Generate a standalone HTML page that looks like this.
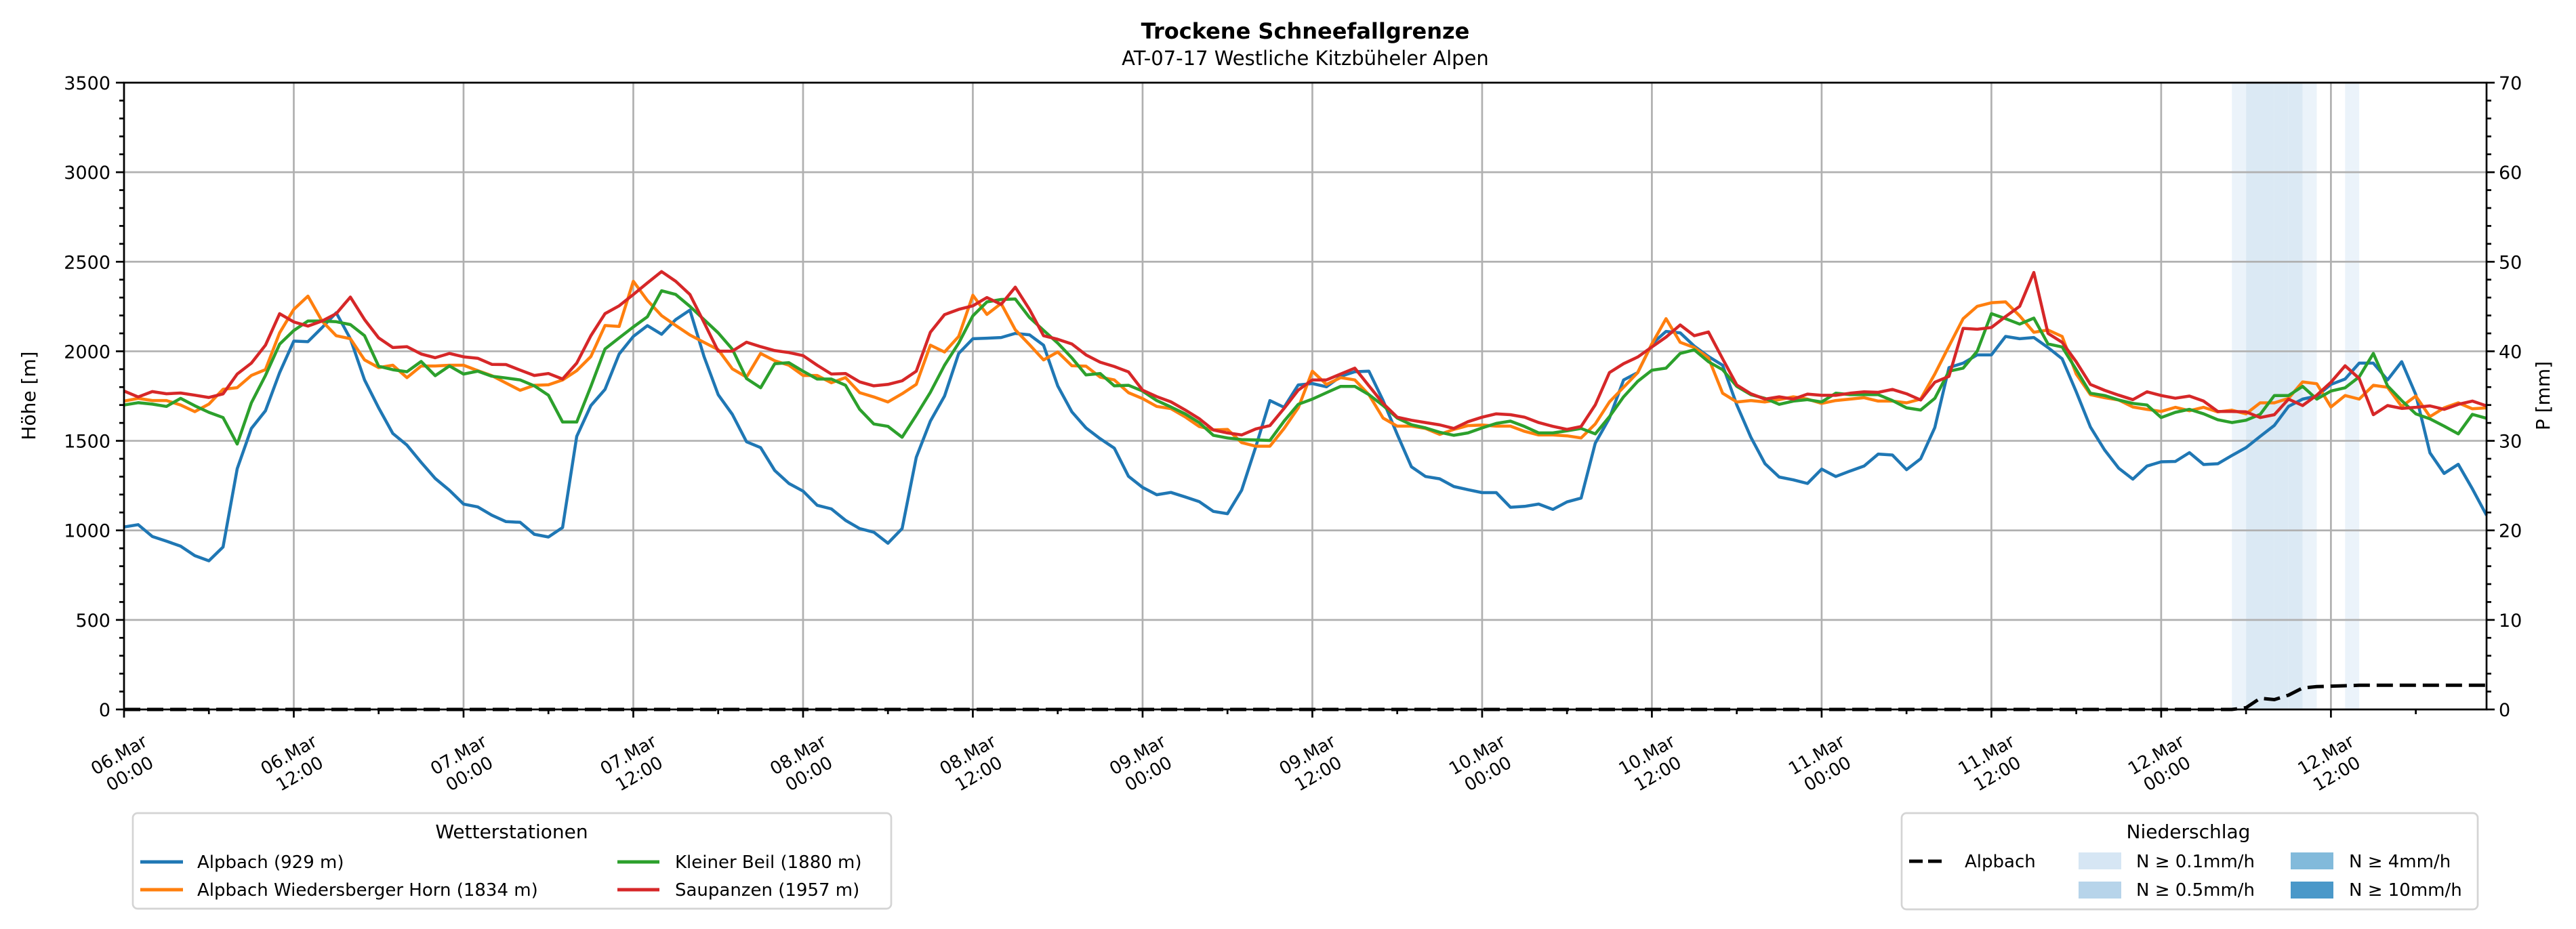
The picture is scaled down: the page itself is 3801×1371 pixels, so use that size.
<!DOCTYPE html>
<html><head><meta charset="utf-8"><style>
html,body{margin:0;padding:0;background:#fff;}
svg{display:block;font-family:"DejaVu Sans","Liberation Sans",sans-serif;}
</style></head><body>
<svg id="chart" width="3801" height="1371" viewBox="0 0 3801 1371" xmlns="http://www.w3.org/2000/svg">
<rect x="0" y="0" width="3801" height="1371" fill="#fff"/>
<text x="1926" y="57" text-anchor="middle" font-size="32" font-weight="bold">Trockene Schneefallgrenze</text>
<text x="1926" y="96" text-anchor="middle" font-size="29">AT-07-17 Westliche Kitzbüheler Alpen</text>
<g id="bands"></g><g id="grid"></g><g id="series"></g><g id="axes"></g>
<text transform="translate(52,584) rotate(-90)" text-anchor="middle" font-size="28">Höhe [m]</text>
<text transform="translate(3762,584) rotate(-90)" text-anchor="middle" font-size="28">P [mm]</text>

<g>
<rect x="196" y="1200" width="1119" height="141" rx="7" fill="#fff" stroke="#d4d4d4" stroke-width="2.7"/>
<text x="755" y="1237" text-anchor="middle" font-size="28">Wetterstationen</text>
<g><line x1="207" y1="1272" x2="270" y2="1272" stroke="#1f77b4" stroke-width="5"/><text x="291" y="1281" font-size="26">Alpbach (929 m)</text></g>
<g><line x1="207" y1="1313" x2="270" y2="1313" stroke="#ff7f0e" stroke-width="5"/><text x="291" y="1322" font-size="26">Alpbach Wiedersberger Horn (1834 m)</text></g>
<g><line x1="911" y1="1272" x2="973" y2="1272" stroke="#2ca02c" stroke-width="5"/><text x="996" y="1281" font-size="26">Kleiner Beil (1880 m)</text></g>
<g><line x1="911" y1="1313" x2="973" y2="1313" stroke="#d62728" stroke-width="5"/><text x="996" y="1322" font-size="26">Saupanzen (1957 m)</text></g>
</g>

<g>
<rect x="2806" y="1200" width="850" height="142" rx="7" fill="#fff" stroke="#d4d4d4" stroke-width="2.7"/>
<text x="3229" y="1237" text-anchor="middle" font-size="28">Niederschlag</text>
<g><line x1="2817" y1="1271" x2="2873" y2="1271" stroke="#000" stroke-width="5" stroke-dasharray="20,8"/><text x="2899" y="1280" font-size="26">Alpbach</text></g>
<g><rect x="3067" y="1258" width="63" height="25" fill="#d6e6f4"/><text x="3152" y="1280" font-size="26">N ≥ 0.1mm/h</text></g>
<g><rect x="3067" y="1301" width="63" height="25" fill="#b7d4ea"/><text x="3152" y="1322" font-size="26">N ≥ 0.5mm/h</text></g>
<g><rect x="3380" y="1258" width="63" height="25" fill="#82badb"/><text x="3466" y="1280" font-size="26">N ≥ 4mm/h</text></g>
<g><rect x="3380" y="1301" width="63" height="25" fill="#4a98c9"/><text x="3466" y="1322" font-size="26">N ≥ 10mm/h</text></g>
</g>
</svg>
<script>
const hoursCount = 168;
const alpbach = [1019,1032,966,940,912,859,830,907,1344,1569,1668,1881,2057,2054,2132,2215,2070,1840,1684,1541,1476,1380,1290,1224,1147,1131,1085,1049,1045,978,963,1016,1525,1697,1787,
1985,2083,2143,2095,2177,2230,1971,1758,1648,1495,1462,1334,1262,1219,1140,1120,1056,1010,990,928,1010,1408,1610,1750,1988,2070,2073,2077,2100,2092,2034,1807,1662,
1572,1512,1459,1302,1240,1199,1212,1187,1161,1106,1093,1224,1466,1725,1687,1812,1820,1802,1860,1886,1889,1725,1536,1355,1301,1288,1245,1227,1211,1211,1129,1134,1147,1117,
1159,1180,1487,1627,1840,1881,2041,2111,2103,2029,1971,1922,1701,1520,1372,1298,1282,1262,1342,1301,1331,1359,1426,1421,1339,1400,1574,1909,1934,1980,1980,2083,
2070,2077,2021,1958,1774,1577,1449,1347,1286,1359,1383,1385,1434,1368,1372,1418,1462,1525,1586,1692,1733,1750,1815,1845,1934,1934,1840,1942,1758,1433,1318,1369,1232,1084];
const wiedersberger = [1722,1737,1725,1725,1700,1663,1705,1788,1797,1865,1898,2103,2234,2308,2169,2087,2070,1952,1909,1922,1853,1918,1918,1922,1922,1892,1864,1823,1782,1810,1813,1840,1892,1971,2144,
2139,2391,2284,2199,2144,2091,2050,2009,1902,1856,1988,1947,1922,1865,1865,1824,1853,1769,1745,1717,1763,1815,2034,1996,2083,2313,2206,2267,2120,2037,1952,1996,1919,
1917,1856,1840,1769,1736,1692,1680,1634,1580,1561,1564,1490,1470,1470,1569,1684,1889,1815,1853,1840,1758,1627,1582,1582,1569,1536,1564,1585,1588,1582,1582,1553,1533,1533,
1528,1516,1594,1717,1799,1881,2041,2182,2050,2021,1963,1766,1717,1725,1717,1730,1746,1733,1709,1725,1733,1741,1722,1722,1712,1733,1873,2029,2182,2251,2271,2276,
2198,2106,2119,2083,1873,1758,1741,1728,1689,1676,1664,1687,1668,1687,1662,1671,1651,1712,1712,1737,1829,1819,1689,1753,1733,1810,1799,1692,1750,1635,1684,1712,1679,1684];
const kleinerBeil = [1700,1713,1705,1692,1737,1696,1659,1630,1482,1712,1865,2040,2116,2169,2169,2165,2149,2087,1917,1897,1886,1943,1864,1918,1873,1889,1861,1851,1840,1807,1755,1605,1605,1804,2013,
2075,2136,2193,2338,2317,2251,2177,2103,2012,1848,1796,1931,1936,1889,1845,1845,1810,1676,1594,1581,1520,1643,1771,1922,2046,2198,2276,2289,2292,2189,2117,2046,1963,
1868,1876,1807,1810,1778,1725,1689,1651,1602,1531,1516,1507,1505,1502,1610,1704,1733,1769,1804,1804,1758,1697,1627,1590,1572,1548,1531,1544,1572,1597,1610,1580,1544,1544,
1556,1569,1539,1635,1746,1832,1894,1906,1988,2008,1942,1897,1804,1758,1737,1704,1722,1730,1717,1766,1758,1758,1758,1725,1684,1672,1737,1889,1906,2001,2210,2182,
2152,2185,2041,2024,1897,1766,1753,1728,1709,1700,1630,1659,1676,1651,1618,1602,1615,1648,1753,1753,1804,1733,1778,1796,1857,1988,1807,1725,1651,1623,1582,1539,1648,1626];
const saupanzen = [1778,1745,1775,1763,1767,1755,1742,1762,1873,1934,2034,2210,2164,2141,2169,2210,2303,2177,2075,2021,2026,1985,1964,1988,1969,1961,1927,1926,1895,1865,1876,1845,1934,2087,2210,
2254,2317,2382,2445,2391,2317,2161,2001,2001,2051,2026,2004,1993,1976,1922,1873,1876,1829,1807,1815,1835,1889,2106,2205,2234,2254,2300,2262,2358,2234,2087,2067,2041,
1980,1939,1915,1885,1783,1747,1718,1673,1624,1561,1544,1533,1566,1585,1681,1783,1840,1840,1873,1906,1807,1709,1632,1615,1602,1589,1569,1607,1632,1651,1646,1632,1602,1581,
1564,1580,1701,1881,1931,1968,2024,2079,2147,2087,2108,1958,1812,1763,1733,1746,1733,1761,1754,1754,1766,1774,1771,1787,1763,1728,1827,1860,2128,2123,2133,2194,
2251,2440,2100,2050,1941,1815,1782,1755,1730,1774,1753,1738,1750,1722,1664,1664,1662,1630,1646,1733,1697,1755,1827,1919,1848,1646,1697,1681,1687,1695,1676,1704,1722,1695];
const precipHours = [149,150,151,152,153,154,157];
const precipRates = [0.2,0.9,0.5,0.5,0.6,0.2,0.1];
const cumHours = [0,149,150,151,152,153,154,155,156,157,158,167];
const cumValues = [0,0,0.2,1.25,1.1,1.6,2.4,2.55,2.6,2.65,2.7,2.7];
const yTicks = [0,500,1000,1500,2000,2500,3000,3500];
const y2Ticks = [0,10,20,30,40,50,60,70];
const xTickLabels = [["06.Mar","00:00"],["06.Mar","12:00"],["07.Mar","00:00"],["07.Mar","12:00"],["08.Mar","00:00"],["08.Mar","12:00"],["09.Mar","00:00"],["09.Mar","12:00"],["10.Mar","00:00"],["10.Mar","12:00"],["11.Mar","00:00"],["11.Mar","12:00"],["12.Mar","00:00"],["12.Mar","12:00"]];

const NS="http://www.w3.org/2000/svg";
const X0=183,X1=3669,YB=1047,YT=122;
const HMAX=167, VMAX=3500, PMAX=70;
const xs=h=>X0+(X1-X0)*h/HMAX;
const ys=v=>YB-(YB-YT)*v/VMAX;
const ys2=p=>YB-(YB-YT)*p/PMAX;
function mk(tag,attrs,parent){const e=document.createElementNS(NS,tag);for(const k in attrs)e.setAttribute(k,attrs[k]);parent.appendChild(e);return e;}
const gB=document.getElementById('bands'),gG=document.getElementById('grid'),gS=document.getElementById('series'),gA=document.getElementById('axes');

precipHours.forEach((h,i)=>{
  const r=precipRates[i];
  const col=r>=10?'#a5cae4':r>=4?'#c1ddec':r>=0.5?'#dbe9f4':'#ebf3fa';
  const el=mk('rect',{x:xs(h),y:YT,width:xs(h+1)-xs(h),height:YB-YT,fill:col},gB);
  
  
});

for(let i=0;i<xTickLabels.length;i++){
  const x=xs(i*12);
  const l=mk('line',{x1:x,y1:YT,x2:x,y2:YB,stroke:'#b0b0b0','stroke-width':2.7},gG);
  
  
}
yTicks.forEach(v=>{
  const l=mk('line',{x1:X0,y1:ys(v),x2:X1,y2:ys(v),stroke:'#b0b0b0','stroke-width':2.7},gG);
  
  
});

{
  let d='';
  cumHours.forEach((h,i)=>{d+=(i?'L':'M')+xs(h).toFixed(1)+' '+ys2(cumValues[i]).toFixed(1);});
  const p=mk('path',{d:d,fill:'none',stroke:'#000','stroke-width':5,'stroke-dasharray':'24,10'},gS);
  
  
}
const seriesList=[[alpbach,'#1f77b4','series-alpbach'],[wiedersberger,'#ff7f0e','series-wiedersberger-horn'],[kleinerBeil,'#2ca02c','series-kleiner-beil'],[saupanzen,'#d62728','series-saupanzen']];
seriesList.forEach(s=>{
  let d='';
  s[0].forEach((v,h)=>{d+=(h?'L':'M')+xs(h).toFixed(1)+' '+ys(v).toFixed(1);});
  const p=mk('path',{d:d,fill:'none',stroke:s[1],'stroke-width':4.5,'stroke-linejoin':'round'},gS);
  
  
});

const frame=mk('rect',{x:X0,y:YT,width:X1-X0,height:YB-YT,fill:'none',stroke:'#000','stroke-width':2.7},gA);



for(let v=0;v<=VMAX;v+=100){
  const major=v%500===0;
  mk('line',{x1:X0,y1:ys(v),x2:X0-(major?12:7),y2:ys(v),stroke:'#000','stroke-width':2.7},gA);
}
yTicks.forEach(v=>{
  const t=mk('text',{x:X0-20,y:ys(v)+10,'text-anchor':'end','font-size':27},gA);
  t.textContent=v;
  
  
});
for(let p=0;p<=PMAX;p+=2){
  const major=p%10===0;
  mk('line',{x1:X1,y1:ys2(p),x2:X1+(major?12:7),y2:ys2(p),stroke:'#000','stroke-width':2.7},gA);
}
y2Ticks.forEach(p=>{
  const t=mk('text',{x:X1+18,y:ys2(p)+10,'text-anchor':'start','font-size':27},gA);
  t.textContent=p;
  
  
});
for(let h=0;h<=HMAX;h+=6){
  const major=h%12===0;
  mk('line',{x1:xs(h),y1:YB,x2:xs(h),y2:YB+(major?12:7),stroke:'#000','stroke-width':2.7},gA);
}
xTickLabels.forEach((lab,i)=>{
  const cx=xs(i*12), cy=1127;
  const t=mk('text',{transform:`translate(${cx},${cy}) rotate(-30)`,'text-anchor':'middle','font-size':26},gA);
  
  
  const a=mk('tspan',{x:0,y:-6},t);a.textContent=lab[0];
  const b=mk('tspan',{x:0,y:26},t);b.textContent=lab[1];
});
</script>
</body></html>
